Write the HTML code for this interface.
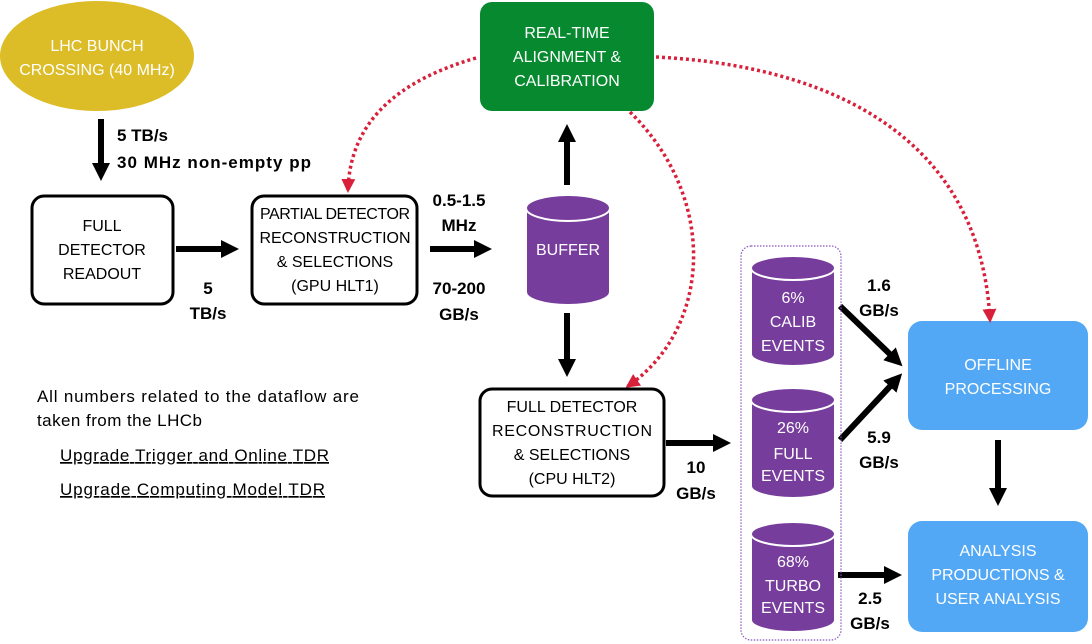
<!DOCTYPE html>
<html><head><meta charset="utf-8"><style>
html,body{margin:0;padding:0;background:#fff;}
svg{display:block;}
text{font-family:"Liberation Sans",sans-serif;font-size:16px;}
.w{fill:#fff;text-anchor:middle;}
.b{fill:#000;text-anchor:middle;}
.l{fill:#000;font-weight:bold;font-size:17px;}
</style></head><body>
<svg width="1092" height="644" viewBox="0 0 1092 644" xmlns="http://www.w3.org/2000/svg">
<defs>
<marker id="ah" markerWidth="3" markerHeight="3" refX="1.5" refY="1.5" orient="auto" markerUnits="strokeWidth"><path d="M0,0 L3,1.5 L0,3 z" fill="#000"/></marker>
<marker id="rh" markerWidth="14" markerHeight="14" refX="11" refY="7" orient="auto" markerUnits="userSpaceOnUse"><path d="M0,0 L14,7 L0,14 z" fill="#d9203a"/></marker>
</defs>
<ellipse cx="97" cy="56" rx="97" ry="55" fill="#dcbc27"/>
<text class="w" x="97" y="51">LHC BUNCH</text>
<text class="w" x="97" y="75">CROSSING (40 MHz)</text>
<rect x="480" y="2" width="174" height="109" rx="12" fill="#078a2f"/>
<text class="w" x="567" y="38">REAL-TIME</text>
<text class="w" x="567" y="62">ALIGNMENT &amp;</text>
<text class="w" x="567" y="86">CALIBRATION</text>
<g stroke="#000" stroke-width="6" fill="none">
<line x1="101" y1="119" x2="101" y2="172" marker-end="url(#ah)"/>
<line x1="176" y1="249" x2="230" y2="249" marker-end="url(#ah)"/>
<line x1="430" y1="249" x2="483" y2="249" marker-end="url(#ah)"/>
<line x1="567" y1="185" x2="567" y2="133" marker-end="url(#ah)"/>
<line x1="567" y1="313" x2="567" y2="368" marker-end="url(#ah)"/>
<line x1="666" y1="443" x2="722" y2="443" marker-end="url(#ah)"/>
<line x1="840" y1="306" x2="896" y2="360" marker-end="url(#ah)"/>
<line x1="840" y1="440" x2="896" y2="380" marker-end="url(#ah)"/>
<line x1="838" y1="575" x2="893" y2="575" marker-end="url(#ah)"/>
<line x1="998" y1="440" x2="998" y2="497" marker-end="url(#ah)"/>
</g>
<rect x="32" y="196" width="141" height="108" rx="12" fill="#fff" stroke="#000" stroke-width="3"/>
<text class="b" x="102" y="231">FULL</text>
<text class="b" x="102" y="255">DETECTOR</text>
<text class="b" x="102" y="279">READOUT</text>
<rect x="252" y="196" width="165" height="108" rx="12" fill="#fff" stroke="#000" stroke-width="3"/>
<text class="b" x="335" y="219" textLength="150">PARTIAL DETECTOR</text>
<text class="b" x="335" y="243">RECONSTRUCTION</text>
<text class="b" x="335" y="267">&amp; SELECTIONS</text>
<text class="b" x="335" y="291">(GPU HLT1)</text>
<rect x="480" y="389" width="184" height="107" rx="12" fill="#fff" stroke="#000" stroke-width="3"/>
<text class="b" x="572" y="412">FULL DETECTOR</text>
<text class="b" x="572" y="436" textLength="160">RECONSTRUCTION</text>
<text class="b" x="572" y="460">&amp; SELECTIONS</text>
<text class="b" x="572" y="484">(CPU HLT2)</text>
<text class="l" x="117" y="141">5 TB/s</text>
<text class="l" x="117" y="168" textLength="194">30 MHz non-empty pp</text>
<text class="l" x="208" y="294" text-anchor="middle">5</text>
<text class="l" x="208" y="319" text-anchor="middle">TB/s</text>
<text class="l" x="459" y="206" text-anchor="middle">0.5-1.5</text>
<text class="l" x="459" y="231" text-anchor="middle">MHz</text>
<text class="l" x="459" y="294" text-anchor="middle">70-200</text>
<text class="l" x="459" y="320" text-anchor="middle">GB/s</text>
<text class="l" x="696" y="473" text-anchor="middle">10</text>
<text class="l" x="696" y="499" text-anchor="middle">GB/s</text>
<text class="l" x="879" y="291" text-anchor="middle">1.6</text>
<text class="l" x="879" y="316" text-anchor="middle">GB/s</text>
<text class="l" x="879" y="443" text-anchor="middle">5.9</text>
<text class="l" x="879" y="468" text-anchor="middle">GB/s</text>
<text class="l" x="870" y="604" text-anchor="middle">2.5</text>
<text class="l" x="870" y="629" text-anchor="middle">GB/s</text>
<g fill="#773d9c" stroke="#fff" stroke-width="2">
<path d="M526,208 L526,292 A42,13 0 0 0 610,292 L610,208"/>
<ellipse cx="568" cy="208" rx="42" ry="13"/>
</g>
<text class="w" x="568" y="255">BUFFER</text>
<rect x="741" y="246" width="100" height="394" rx="10" fill="none" stroke="#8a55c0" stroke-width="1.2" stroke-dasharray="1.5 1.5"/>
<g fill="#773d9c" stroke="#fff" stroke-width="2">
<path d="M751,268 L751,354 A42,12 0 0 0 835,354 L835,268"/><ellipse cx="793" cy="268" rx="42" ry="12"/>
<path d="M751,400 L751,486 A42,12 0 0 0 835,486 L835,400"/><ellipse cx="793" cy="400" rx="42" ry="12"/>
<path d="M751,534 L751,620 A42,12 0 0 0 835,620 L835,534"/><ellipse cx="793" cy="534" rx="42" ry="12"/>
</g>
<text class="w" x="793" y="303">6%</text>
<text class="w" x="793" y="327">CALIB</text>
<text class="w" x="793" y="351">EVENTS</text>
<text class="w" x="793" y="433">26%</text>
<text class="w" x="793" y="459">FULL</text>
<text class="w" x="793" y="481">EVENTS</text>
<text class="w" x="793" y="567">68%</text>
<text class="w" x="793" y="591">TURBO</text>
<text class="w" x="793" y="613">EVENTS</text>
<rect x="908" y="321" width="180" height="109" rx="14" fill="#52a8f5"/>
<text class="w" x="998" y="370">OFFLINE</text>
<text class="w" x="998" y="394">PROCESSING</text>
<rect x="908" y="521" width="180" height="111" rx="14" fill="#52a8f5"/>
<text class="w" x="998" y="556">ANALYSIS</text>
<text class="w" x="998" y="580">PRODUCTIONS &amp;</text>
<text class="w" x="998" y="604">USER ANALYSIS</text>
<g stroke="#d9203a" stroke-width="3.5" fill="none" stroke-dasharray="3 3">
<path d="M476,58 C400,80 350,120 348,190" marker-end="url(#rh)"/>
<path d="M630,112 C720,200 710,330 628,386" marker-end="url(#rh)"/>
<path d="M656,57 C820,65 980,130 990,320" marker-end="url(#rh)"/>
</g>
<text x="37" y="402" textLength="322" style="font-size:17px">All numbers related to the dataflow are</text>
<text x="37" y="426" style="font-size:17px" textLength="165">taken from the LHCb</text>
<text x="60" y="461" style="font-size:17px;text-decoration:underline" textLength="269">Upgrade Trigger and Online TDR</text>
<text x="60" y="495" style="font-size:17px;text-decoration:underline" textLength="265">Upgrade Computing Model TDR</text>
</svg>
</body></html>
